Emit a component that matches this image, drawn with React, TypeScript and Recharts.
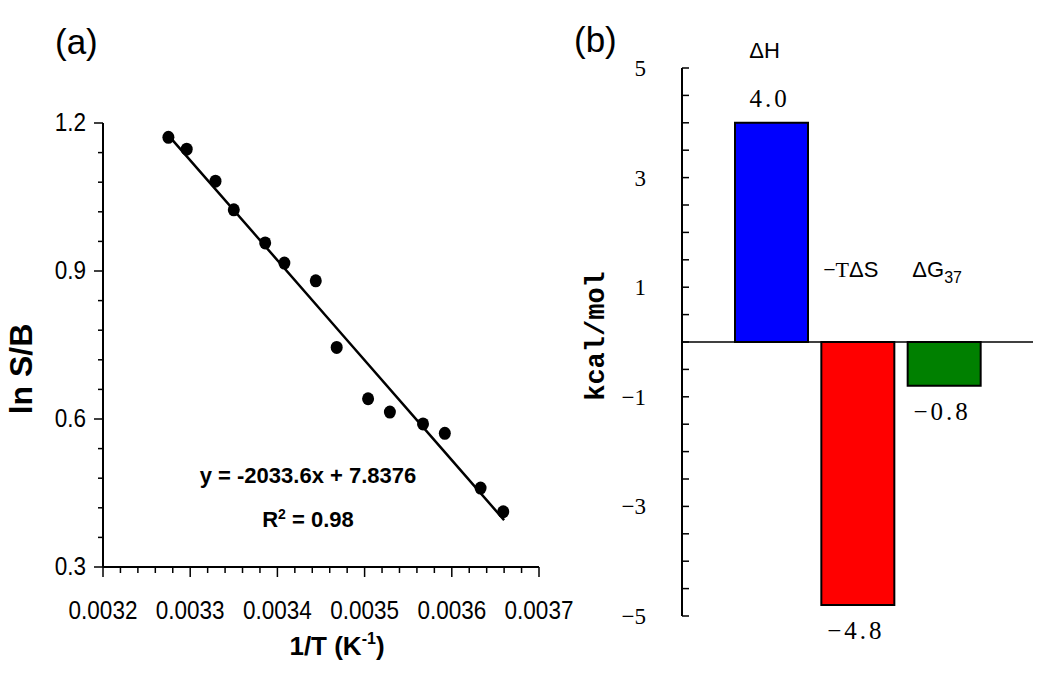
import { ScatterChart, Scatter, XAxis, YAxis, BarChart, Bar, Cell, LabelList, ReferenceLine } from 'recharts'

// ── panel (a): van't Hoff plot ──
const INV_T = [0.003275, 0.003296, 0.003329, 0.00335, 0.003386, 0.003408, 0.003444, 0.003468, 0.003504, 0.003529, 0.003567, 0.003592, 0.003633, 0.003659]
const LN_SB = [1.171, 1.147, 1.082, 1.024, 0.957, 0.916, 0.88, 0.745, 0.641, 0.614, 0.59, 0.571, 0.46, 0.412]
const FIT_X = [0.003275, 0.00347, 0.00359, 0.00366]
const FIT_Y = [1.175, 0.78, 0.537, 0.395]
const X_TICKS = [0.0032, 0.00322, 0.00324, 0.00326, 0.00328, 0.0033, 0.00332, 0.00334, 0.00336, 0.00338, 0.0034, 0.00342, 0.00344, 0.00346, 0.00348, 0.0035, 0.00352, 0.00354, 0.00356, 0.00358, 0.0036, 0.00362, 0.00364, 0.00366, 0.00368, 0.0037]
const X_MAJOR = [0.0032, 0.0033, 0.0034, 0.0035, 0.0036, 0.0037]
const Y_TICKS = [0.3, 0.36, 0.42, 0.48, 0.54, 0.6, 0.66, 0.72, 0.78, 0.84, 0.9, 0.96, 1.02, 1.08, 1.14, 1.2]
const Y_MAJOR = [0.3, 0.6, 0.9, 1.2]

// ── panel (b): thermodynamic terms ──
const TERMS = ['ΔH', '−TΔS', 'ΔG']
const TERM_SUB = ['', '', '37']
const ENERGY = [4.0, -4.8, -0.8]
const BAR_COLORS = ['#0000ff', '#ff0000', '#008000']
const E_TICKS = [-5, -4.5, -4, -3.5, -3, -2.5, -2, -1.5, -1, -0.5, 0, 0.5, 1, 1.5, 2, 2.5, 3, 3.5, 4, 4.5, 5]
const E_MAJOR = [-5, -3, -1, 1, 3, 5]

const SANS = '"Liberation Sans", Arial, sans-serif'
const SERIF = '"Liberation Serif", "Times New Roman", serif'
const MONO = '"Liberation Mono", "Courier New", monospace'

const points = INV_T.map((x, i) => ({ x, y: LN_SB[i] }))
const fit = FIT_X.map((x, i) => ({ x, y: FIT_Y[i] }))
const bars = TERMS.map((name, i) => ({ name, sub: TERM_SUB[i], value: ENERGY[i] }))

const isIn = (list: number[], v: number) => list.some((m) => Math.abs(m - v) < 1e-9)
const minus = (s: string) => s.replace('-', '−')

function XTick({ x, y, payload }: any) {
  const major = isIn(X_MAJOR, payload.value)
  return (
    <g>
      <line x1={x} x2={x} y1={y} y2={y + (major ? 10 : 6)} stroke="#000" strokeWidth={1.5} />
      {major && (
        <text transform={`translate(${x} ${y + 52}) scale(0.9 1)`} textAnchor="middle" fontFamily={SANS} fontSize={25} fill="#000">
          {payload.value.toFixed(4)}
        </text>
      )}
    </g>
  )
}

function YTick({ x, y, payload }: any) {
  const major = isIn(Y_MAJOR, payload.value)
  return (
    <g>
      <line x1={x - (major ? 9 : 5)} x2={x} y1={y} y2={y} stroke="#000" strokeWidth={1.5} />
      {major && (
        <text transform={`translate(${x - 17} ${y + 8}) scale(0.9 1)`} textAnchor="end" fontFamily={SANS} fontSize={25} fill="#000">
          {payload.value.toFixed(1)}
        </text>
      )}
    </g>
  )
}

function XTitle({ viewBox }: any) {
  const cx = viewBox.x + viewBox.width / 2 + 16
  return (
    <text x={cx} y={viewBox.y + 88} textAnchor="middle" fontFamily={SANS} fontSize={26} fontWeight="bold" fill="#000">
      1/T (K<tspan fontSize={16} dy={-11}>-1</tspan><tspan dy={11}>)</tspan>
    </text>
  )
}

function YTitle({ viewBox }: any) {
  const cy = viewBox.y + viewBox.height / 2 + 24
  return (
    <text x={21} y={cy} transform={`rotate(-90 21 ${cy})`} textAnchor="middle" dominantBaseline="central"
      fontFamily={SANS} fontSize={32} fontWeight="bold" fill="#000">
      ln S/B
    </text>
  )
}

function Dot({ cx, cy }: any) {
  return <ellipse cx={cx} cy={cy} rx={6} ry={6.5} fill="#000" />
}

function NoDot() {
  return <g />
}

function ETick({ x, y, payload }: any) {
  const v = payload.value
  return (
    <g>
      <line x1={x} x2={x + 7} y1={y} y2={y} stroke="#000" strokeWidth={1.5} />
      {isIn(E_MAJOR, v) && (
        <text x={x - 36} y={y + 8} textAnchor="end" fontFamily={SERIF} fontSize={23} fill="#000">
          {minus(String(v))}
        </text>
      )}
    </g>
  )
}

function ETitle({ viewBox }: any) {
  const cy = viewBox.y + viewBox.height / 2 - 6
  return (
    <text x={37} y={cy} transform={`rotate(-90 37 ${cy})`} textAnchor="middle" dominantBaseline="central"
      fontFamily={MONO} fontSize={27} fontWeight="bold" fill="#000">
      kcal/mol
    </text>
  )
}

function TermLabel({ x, y, width, height, index }: any) {
  const top = Math.min(y, y + height)
  const d = bars[index]
  const cx = x + width / 2 - 7
  const ty = top - 65
  if (d.name.startsWith('−T')) {
    return (
      <text x={cx} y={ty} textAnchor="middle" fontSize={22} fill="#000">
        <tspan fontFamily={SERIF}>−T</tspan><tspan fontFamily={SANS}>ΔS</tspan>
      </text>
    )
  }
  return (
    <text x={cx} y={ty} textAnchor="middle" fontFamily={SANS} fontSize={22} fill="#000">
      {d.name}
      {d.sub && <tspan fontSize={16} dy={6}>{d.sub}</tspan>}
    </text>
  )
}

function ValueLabel({ x, y, width, height, value }: any) {
  const top = Math.min(y, y + height)
  const bottom = Math.max(y, y + height)
  const cx = x + width / 2 - 2
  const ty = value >= 0 ? top - 16 : bottom + 34
  return (
    <text x={cx} y={ty} textAnchor="middle" fontFamily={SERIF} fontSize={25} letterSpacing={3} fill="#000">
      {minus(value.toFixed(1))}
    </text>
  )
}

export default function App() {
  return (
    <div style={{ position: 'absolute', left: 0, top: 0, width: 1050, height: 684, background: '#fff' }}>
      <div style={{ position: 'absolute', left: 55, top: 21, fontFamily: SANS, fontSize: 35, lineHeight: '42px' }}>(a)</div>
      <div style={{ position: 'absolute', left: 574, top: 19, fontFamily: SANS, fontSize: 35, lineHeight: '42px' }}>(b)</div>

      <div style={{ position: 'absolute', left: 0, top: 0 }}>
        <ScatterChart width={600} height={684} margin={{ top: 123, right: 61, bottom: 57, left: 0 }}>
          <XAxis type="number" dataKey="x" domain={[0.0032, 0.0037]} ticks={X_TICKS} interval={0}
            tickSize={0} tickMargin={0} tick={<XTick />} height={60}
            axisLine={{ stroke: '#000', strokeWidth: 2 }} label={<XTitle />} />
          <YAxis type="number" dataKey="y" domain={[0.3, 1.2]} ticks={Y_TICKS} interval={0}
            tickSize={0} tickMargin={0} tick={<YTick />} width={103}
            axisLine={{ stroke: '#000', strokeWidth: 2 }} label={<YTitle />} />
          <Scatter data={fit} shape={<NoDot />} line={{ stroke: '#000', strokeWidth: 2.5 }} isAnimationActive={false} />
          <Scatter data={points} shape={<Dot />} isAnimationActive={false} />
        </ScatterChart>
        <div style={{ position: 'absolute', left: 150, top: 457, width: 316, textAlign: 'center',
          fontFamily: SANS, fontWeight: 'bold', fontSize: 22, lineHeight: '38px', color: '#000' }}>
          <div>y = -2033.6x + 7.8376</div>
          <div>R<sup style={{ fontSize: 14 }}>2</sup> = 0.98</div>
        </div>
      </div>

      <div style={{ position: 'absolute', left: 560, top: 0 }}>
        <BarChart width={490} height={684} data={bars} margin={{ top: 68, right: 17, bottom: 68, left: 0 }} barSize={73}>
          <XAxis dataKey="name" hide padding={{ left: 46, right: 46 }} height={0} />
          <YAxis type="number" domain={[-5, 5]} ticks={E_TICKS} interval={0} tickSize={0} tickMargin={0}
            tick={<ETick />} width={122} axisLine={{ stroke: '#000', strokeWidth: 2 }} label={<ETitle />} />
          <ReferenceLine y={0} stroke="#000" strokeWidth={1.5} />
          <Bar dataKey="value" stroke="#000" strokeWidth={2} isAnimationActive={false}>
            {bars.map((d, i) => <Cell key={d.name} fill={BAR_COLORS[i]} />)}
            <LabelList dataKey="value" content={<ValueLabel />} />
            <LabelList dataKey="name" content={<TermLabel />} />
          </Bar>
        </BarChart>
      </div>
    </div>
  )
}
